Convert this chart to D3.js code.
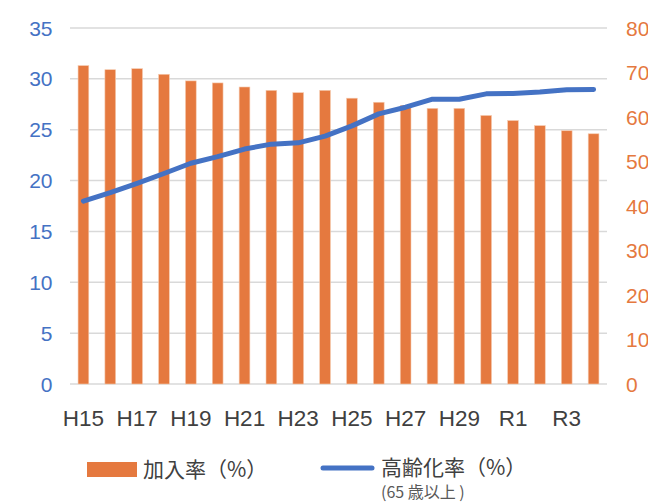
<!doctype html>
<html>
<head>
<meta charset="utf-8">
<script src="https://d3js.org/d3.v7.min.js"></script>
<style>
  body { margin: 0; background: #fff; }
  text { font-family: "Liberation Sans", "Noto Sans CJK JP", sans-serif; }
  .jp { font-family: "Noto Sans CJK JP", sans-serif; }
</style>
</head>
<body>
<svg id="chart" width="648" height="502"></svg>
<script>
// data
var years = ['H15','H16','H17','H18','H19','H20','H21','H22','H23','H24',
             'H25','H26','H27','H28','H29','H30','R1','R2','R3','R4'];
var kanyuRate = [31.3, 30.9, 31.0, 30.45, 29.8, 29.6, 29.2, 28.87, 28.64, 28.87,
                 28.1, 27.7, 27.4, 27.1, 27.1, 26.4, 25.9, 25.4, 24.9, 24.6];
var agingRate = [41.1, 43.0, 45.1, 47.3, 49.6, 51.1, 52.8, 53.9, 54.2, 55.7,
                 58.0, 60.7, 62.2, 64.0, 64.0, 65.2, 65.3, 65.6, 66.1, 66.2];
var leftTicks = [0, 5, 10, 15, 20, 25, 30, 35];
var rightTicks = [0, 10, 20, 30, 40, 50, 60, 70, 80];
var shownLabels = ['H15','H17','H19','H21','H23','H25','H27','H29','R1','R3'];

var ORANGE = '#E5793F';
var BLUE = '#4472C4';

var svg = d3.select('#chart');

var x = d3.scaleBand().domain(years).range([70, 607]).paddingInner(0.6).paddingOuter(0.3);
var yL = d3.scaleLinear().domain([0, 35]).range([384, 28]);
var yR = d3.scaleLinear().domain([0, 80]).range([384, 28]);

// gridlines
svg.append('g')
    .selectAll('line')
    .data(leftTicks)
    .enter()
    .append('line')
    .attr('x1', 70).attr('x2', 607)
    .attr('y1', d => yL(d)).attr('y2', d => yL(d))
    .attr('stroke', '#d9d9d9')
    .attr('stroke-width', 1.5);

// left axis labels
svg.append('g')
    .selectAll('text')
    .data(leftTicks)
    .enter()
    .append('text')
    .attr('x', 52.5)
    .attr('y', d => yL(d))
    .attr('dy', '0.36em')
    .attr('text-anchor', 'end')
    .attr('font-size', 21)
    .attr('fill', BLUE)
    .text(d => d);

// right axis labels
svg.append('g')
    .selectAll('text')
    .data(rightTicks)
    .enter()
    .append('text')
    .attr('x', 626)
    .attr('y', d => yR(d))
    .attr('dy', '0.36em')
    .attr('font-size', 21)
    .attr('fill', ORANGE)
    .text(d => d);

// bars
svg.append('g')
    .selectAll('rect')
    .data(kanyuRate)
    .enter()
    .append('rect')
    .attr('x', (d, i) => x(years[i]))
    .attr('y', d => yL(d))
    .attr('width', x.bandwidth())
    .attr('height', d => yL(0) - yL(d))
    .attr('fill', ORANGE)
    .attr('stroke', '#f6cbb0')
    .attr('stroke-width', 0.6);

// line
var line = d3.line()
    .x((d, i) => x(years[i]) + x.bandwidth() / 2)
    .y(d => yR(d));

svg.append('path')
    .datum(agingRate)
    .attr('d', line)
    .attr('fill', 'none')
    .attr('stroke', BLUE)
    .attr('stroke-width', 5)
    .attr('stroke-linecap', 'round')
    .attr('stroke-linejoin', 'round');

// x labels
svg.append('g')
    .selectAll('text')
    .data(shownLabels)
    .enter()
    .append('text')
    .attr('x', d => x(d) + x.bandwidth() / 2)
    .attr('y', 425.5)
    .attr('text-anchor', 'middle')
    .attr('font-size', 22.5)
    .attr('fill', '#404040')
    .text(d => d);

// legend
var leg = svg.append('g');
leg.append('rect')
    .attr('x', 87).attr('y', 462)
    .attr('width', 50).attr('height', 15)
    .attr('fill', ORANGE);
leg.append('text')
    .attr('class', 'jp')
    .attr('x', 143).attr('y', 469)
    .attr('dy', '0.36em')
    .attr('font-size', 21)
    .attr('fill', '#404040')
    .text('加入率（%）');
leg.append('line')
    .attr('x1', 323).attr('x2', 372)
    .attr('y1', 468).attr('y2', 468)
    .attr('stroke', BLUE)
    .attr('stroke-width', 5)
    .attr('stroke-linecap', 'round');
leg.append('text')
    .attr('class', 'jp')
    .attr('x', 381).attr('y', 467)
    .attr('dy', '0.36em')
    .attr('font-size', 21)
    .attr('fill', '#404040')
    .text('高齢化率（%）');
leg.append('text')
    .attr('class', 'jp')
    .attr('x', 381).attr('y', 492)
    .attr('dy', '0.36em')
    .attr('font-size', 16)
    .attr('fill', '#595959')
    .text('(65 歳以上 )');
</script>
</body>
</html>
